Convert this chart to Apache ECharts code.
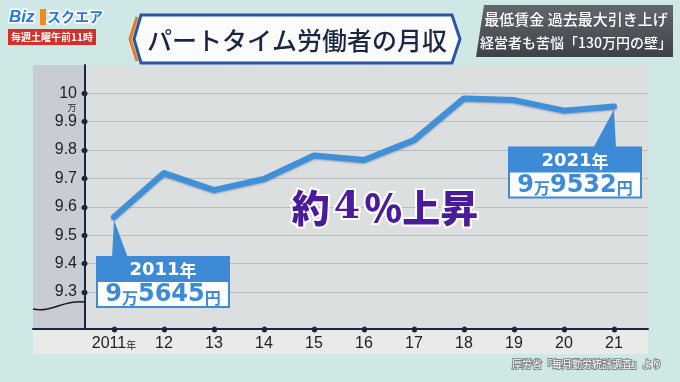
<!DOCTYPE html>
<html><head><meta charset="utf-8">
<script src="https://cdn.jsdelivr.net/npm/echarts@6/dist/echarts.min.js"></script>
<style>html,body{margin:0;padding:0;background:#cfe8e5}#c{width:680px;height:382px}</style>
</head><body><div id="c"></div>
<script>
// ---- data ----
const years = [2011, 2012, 2013, 2014, 2015, 2016, 2017, 2018, 2019, 2020, 2021];
const wages = [9.5645, 9.719, 9.659, 9.698, 9.781, 9.765, 9.835, 9.982, 9.976, 9.939, 9.9532];
const yTicks = [9.3, 9.4, 9.5, 9.6, 9.7, 9.8, 9.9, 10];
const xTickLabels = ['2011年', '12', '13', '14', '15', '16', '17', '18', '19', '20', '21'];
const calloutYears = [2011, 2021];
const calloutHeadYear = ['2011', '2021'];
const calloutMan = ['9', '9'];
const calloutRest = ['5645', '9532'];
const titleText = 'パートタイム労働者の月収';
const subLines = ['最低賃金 過去最大引き上げ', '経営者も苦悩「130万円の壁」'];
const bigText = '約4％上昇';
const sourceText = '厚労省「毎月勤労統計調査」より';

// ---- layout (styles only) ----
const NAVY = '#1c2540';
const BLUE = '#3d8ad6';
const calloutLayout = [
  {dx: -17, dy: 40, triL: -2, triR: 14},
  {dx: -105, dy: 41, triL: -21, triR: 2}
];

const chart = echarts.init(document.getElementById('c'), null, {renderer: 'canvas'});

const option = {
  backgroundColor: '#cfe8e5',
  animation: false,
  grid: {left: 33, right: 32, top: 65, bottom: 53, show: true, backgroundColor: '#dcdfdf', borderWidth: 0},
  xAxis: {
    type: 'value', min: 2009.38, max: 2021.68, z: 10,
    axisLine: {show: true, lineStyle: {color: NAVY, width: 2}},
    axisTick: {show: true, length: 1, customValues: years, lineStyle: {color: NAVY, width: 5, cap: 'round'}},
    axisLabel: {
      customValues: years, margin: 7,
      formatter: function (v) {
        const i = years.indexOf(Math.round(v));
        const s = xTickLabels[i] || '';
        if (s.indexOf('年') >= 0) return '{y|' + s.replace('年', '') + '}{n|年}';
        return '{y|' + s + '}';
      },
      rich: {
        y: {fontFamily: 'Liberation Sans', fontSize: 16, color: '#222'},
        n: {fontFamily: 'Noto Sans CJK JP', fontSize: 10, color: '#222', padding: [3, 0, 0, 0]}
      }
    },
    splitLine: {show: false}
  },
  yAxis: {
    type: 'value', min: 9.1697, max: 10.0997, offset: -52, z: 10,
    axisLine: {show: true, lineStyle: {color: NAVY, width: 2}},
    axisTick: {show: true, length: 1, customValues: yTicks, lineStyle: {color: NAVY, width: 5, cap: 'round'}},
    axisLabel: {
      customValues: yTicks, margin: 8,
      fontFamily: 'Liberation Sans', fontSize: 16, color: '#222',
      formatter: function (v) { return Math.abs(v - 10) < 1e-6 ? '10' : v.toFixed(1); }
    },
    splitLine: {show: false}
  },
  series: [{
    type: 'line', z: 3,
    data: years.map((y, i) => [y, wages[i]]),
    showSymbol: false, symbol: 'none',
    lineStyle: {color: '#3f8fd9', width: 6, join: 'round', cap: 'round',
      shadowColor: 'rgba(20,40,90,0.35)', shadowBlur: 2, shadowOffsetY: 1},
    markLine: {
      silent: true, symbol: 'none', z: 1,
      label: {show: false},
      lineStyle: {color: '#b9bcbd', width: 1.2, type: 'solid'},
      data: yTicks.map(v => ({yAxis: v}))
    }
  }]
};
chart.setOption(option);

// ---- decorations & callouts ----
const g = [];
// bottom label strip
g.push({type: 'rect', z: -5, shape: {x: 33, y: 330, width: 615, height: 24}, style: {fill: '#e9ebeb'}});
// left label strip (covers grid lines)
g.push({type: 'rect', z: 5, shape: {x: 33, y: 65, width: 51, height: 264}, style: {fill: '#c8cdd5'}});
// break wave
g.push({type: 'bezierCurve', z: 6, shape: {x1: 33, y1: 309, cpx1: 52, cpy1: 313, cpx2: 62, cpy2: 300, x2: 84, y2: 302}, style: {fill: null, stroke: '#1a1a1a', lineWidth: 1.5}});
// 万 unit
g.push({type: 'text', z: 12, style: {text: '万', x: 72, y: 108, fill: '#222', font: '9px "Noto Sans CJK JP"', align: 'center', verticalAlign: 'middle'}});

// logo
g.push({type: 'text', z: 12, style: {text: 'Biz', x: 9, y: 17, fill: '#2a78d8', font: 'bold italic 17px "Liberation Sans"', verticalAlign: 'middle', stroke: '#fff', lineWidth: 3}});
g.push({type: 'rect', z: 12, shape: {x: 40, y: 9, width: 6, height: 16}, style: {fill: '#f08a1c'}});
g.push({type: 'text', z: 12, style: {text: 'スクエア', x: 47, y: 17, fill: '#2a78d8', font: 'bold 14px "Noto Sans CJK JP"', verticalAlign: 'middle', stroke: '#fff', lineWidth: 3}});
g.push({type: 'rect', z: 12, shape: {x: 8, y: 29, width: 88, height: 16}, style: {fill: '#d3302b'}});
g.push({type: 'text', z: 13, style: {text: '毎週土曜午前11時', x: 52, y: 37, fill: '#fff', font: 'bold 10px "Noto Sans CJK JP"', align: 'center', verticalAlign: 'middle'}});

// title box
g.push({type: 'polygon', z: 12, shape: {points: [[141, 15], [452, 15], [460, 39], [452, 63], [141, 63], [134, 39]]},
  style: {fill: '#fbfbfb', stroke: '#2a55a6', lineWidth: 3}});
g.push({type: 'polyline', z: 13, shape: {points: [[137, 17], [130, 39], [137, 61]]}, style: {stroke: '#ea7a22', lineWidth: 3, fill: null}});
g.push({type: 'text', z: 13, style: {text: titleText, x: 297, y: 40, fill: '#1b2742', font: '500 25px "Noto Sans CJK JP"', align: 'center', verticalAlign: 'middle'}});

// right subtitle box
g.push({type: 'polygon', z: 12, shape: {points: [[484, 5], [673, 5], [673, 57], [476, 57]]},
  style: {fill: {type: 'linear', x: 0, y: 0, x2: 0, y2: 1, colorStops: [{offset: 0, color: '#62666d'}, {offset: 1, color: '#3d4148'}]}}});
g.push({type: 'text', z: 13, style: {text: subLines[0], x: 576, y: 19, fill: '#fff', font: '500 15px "Noto Sans CJK JP"', align: 'center', verticalAlign: 'middle'}});
g.push({type: 'text', z: 13, style: {text: subLines[1], x: 576, y: 43, fill: '#fff', font: '500 14px "Noto Sans CJK JP"', align: 'center', verticalAlign: 'middle'}});

// big text
g.push({type: 'text', z: 12, style: {
  text: '{a|約}{d|4}{a|％上昇}', x: 385, y: 208, align: 'center', verticalAlign: 'middle',
  rich: {
    a: {fontFamily: 'Noto Sans CJK JP', fontWeight: 900, fontSize: 38, fill: '#4a1c9c', stroke: '#ffffff', lineWidth: 4},
    d: {fontFamily: 'DejaVu Serif', fontWeight: 'bold', fontSize: 38, fill: '#4a1c9c', stroke: '#ffffff', lineWidth: 4, padding: [0, 4, 0, 4]}
  },
  shadowColor: 'rgba(0,0,0,0.35)', shadowBlur: 3, shadowOffsetX: 1, shadowOffsetY: 1}});

// source
g.push({type: 'text', z: 12, style: {text: sourceText, x: 662, y: 364, fill: '#ffffff', font: '10px "Noto Sans CJK JP"', align: 'right', verticalAlign: 'middle', stroke: '#7a8084', lineWidth: 2}});

// callouts anchored on data points
calloutYears.forEach((yr, k) => {
  const idx = years.indexOf(yr);
  const p = chart.convertToPixel({gridIndex: 0}, [yr, wages[idx]]);
  const L = calloutLayout[k];
  const bx = p[0] + L.dx, by = p[1] + L.dy, bw = 132, hh = 25, bh = 50;
  g.push({type: 'polygon', z: 8, shape: {points: [[p[0], p[1] + 3], [p[0] + L.triL, by + 1], [p[0] + L.triR, by + 1]]}, style: {fill: BLUE}});
  g.push({type: 'rect', z: 8, shape: {x: bx, y: by, width: bw, height: bh}, style: {fill: '#fdfdfd', stroke: BLUE, lineWidth: 2}});
  g.push({type: 'rect', z: 8, shape: {x: bx, y: by, width: bw, height: hh}, style: {fill: BLUE}});
  g.push({type: 'text', z: 9, style: {
    text: '{d|' + calloutHeadYear[k] + '}{k|年}',
    x: bx + bw / 2, y: by + hh / 2 + 1, align: 'center', verticalAlign: 'middle',
    rich: {
      d: {fontFamily: 'DejaVu Sans', fontWeight: 'bold', fontSize: 18, fill: '#fff'},
      k: {fontFamily: 'Noto Sans CJK JP', fontWeight: 'bold', fontSize: 17, fill: '#fff'}
    }
  }});
  g.push({type: 'text', z: 9, style: {
    text: '{b|' + calloutMan[k] + '}{s|万}{b|' + calloutRest[k] + '}{s|円}',
    x: bx + bw / 2, y: by + hh + 13, align: 'center', verticalAlign: 'middle',
    rich: {
      b: {fontFamily: 'DejaVu Sans', fontWeight: 'bold', fontSize: 24, fill: BLUE},
      s: {fontFamily: 'Noto Sans CJK JP', fontWeight: 'bold', fontSize: 16, fill: BLUE, padding: [5, 0, 0, 0]}
    }
  }});
});

chart.setOption({graphic: {elements: g}});
</script>
</body></html>
